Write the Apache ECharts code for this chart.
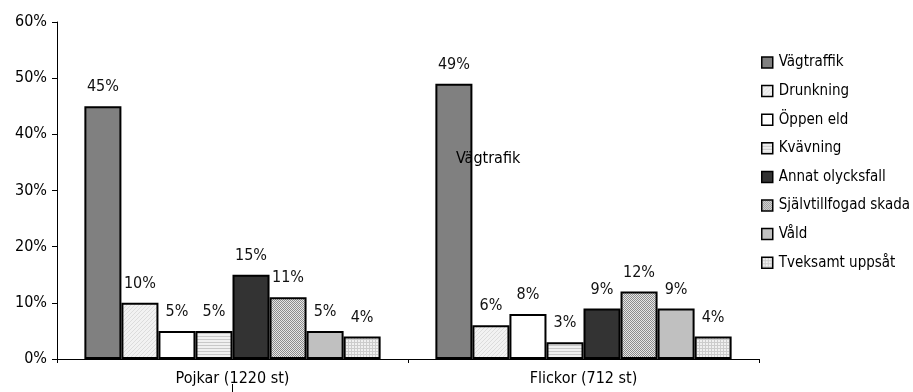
<!DOCTYPE html>
<html>
<head>
<meta charset="utf-8">
<script src="https://cdn.jsdelivr.net/npm/echarts@6/dist/echarts.min.js"></script>
<style>
  html, body { margin: 0; padding: 0; background: #fff; }
  #chart { width: 913px; height: 392px; }
</style>
</head>
<body>
<div id="chart"></div>
<script>
// Dödsorsaker per kön, andel av samtliga fall
const groups = ['Pojkar (1220 st)', 'Flickor (712 st)'];
const causes = ['Vägtraffik', 'Drunkning', 'Öppen eld', 'Kvävning', 'Annat olycksfall', 'Självtillfogad skada', 'Våld', 'Tveksamt uppsåt'];
const pojkar = [45, 10, 5, 5, 15, 11, 5, 4];
const flickor = [49, 6, 8, 3, 9, 12, 9, 4];
const yTicks = [0, 10, 20, 30, 40, 50, 60];

const FONT = "'Liberation Sans Narrow', 'DejaVu Sans Condensed', sans-serif";
const FS = 16;

// Small tiled canvases used as hatch fills
function tile(size, draw) {
  const c = document.createElement('canvas');
  c.width = size; c.height = size;
  const g = c.getContext('2d');
  draw(g, size);
  return { image: c, repeat: 'repeat' };
}
const diagonal = tile(4, (g, s) => {
  g.fillStyle = '#f2f2f2'; g.fillRect(0, 0, s, s);
  g.fillStyle = '#dcdcdc';
  for (let i = 0; i < s; i++) g.fillRect(i, s - 1 - i, 1, 1);
});
const horizontal = tile(3, (g, s) => {
  g.fillStyle = '#f0f0f0'; g.fillRect(0, 0, s, s);
  g.fillStyle = '#c8c8c8'; g.fillRect(0, 0, s, 1);
});
const checker = tile(2, (g, s) => {
  g.fillStyle = '#e6e6e6'; g.fillRect(0, 0, s, s);
  g.fillStyle = '#8c8c8c'; g.fillRect(0, 0, 1, 1); g.fillRect(1, 1, 1, 1);
});
const grid = tile(3, (g, s) => {
  g.fillStyle = '#f0f0f0'; g.fillRect(0, 0, s, s);
  g.fillStyle = '#cccccc'; g.fillRect(0, 0, s, 1); g.fillRect(0, 0, 1, s);
});

const fills = ['#808080', diagonal, '#ffffff', horizontal, '#333333', checker, '#c0c0c0', grid];

const series = causes.map((name, i) => ({
  name: name,
  type: 'bar',
  barGap: 0,
  barCategoryGap: '15.6%',
  data: [pojkar[i], flickor[i]],
  itemStyle: { color: fills[i], borderColor: '#000', borderWidth: 2 },
  label: {
    show: true,
    position: 'top',
    distance: 11,
    formatter: p => p.value + '%',
    fontFamily: FONT,
    fontSize: FS,
    color: '#111'
  }
}));

const chart = echarts.init(document.getElementById('chart'), null, { renderer: 'canvas' });
chart.setOption({
  animation: false,
  backgroundColor: '#fff',
  grid: { left: 57, right: 154, top: 22, bottom: 33, containLabel: false },
  legend: {
    orient: 'vertical',
    left: 756,
    top: 50,
    itemWidth: 11,
    itemHeight: 11,
    itemGap: 13.6,
    icon: 'rect',
    itemStyle: { borderColor: '#000', borderWidth: 1.5 },
    textStyle: { fontFamily: FONT, fontSize: 15, color: '#000', padding: [0, 0, 0, 1] },
    data: causes
  },
  xAxis: {
    type: 'category',
    data: groups,
    axisLine: { lineStyle: { color: '#000', width: 1 } },
    axisTick: { show: true, length: 4, lineStyle: { color: '#000' } },
    axisLabel: { fontFamily: FONT, fontSize: FS, color: '#000', margin: 12 }
  },
  yAxis: {
    type: 'value',
    min: yTicks[0],
    max: yTicks[yTicks.length - 1],
    interval: 10,
    splitLine: { show: false },
    axisLine: { show: true, lineStyle: { color: '#000', width: 1 } },
    axisTick: { show: true, length: 5, lineStyle: { color: '#000' } },
    axisLabel: { fontFamily: FONT, fontSize: FS, color: '#000', margin: 10, formatter: v => v + '%' }
  },
  series: series
});

// Stray category caption over the first Flickor bar and a short tick below the Pojkar caption
const boysCenter = chart.convertToPixel({ xAxisIndex: 0 }, groups[0]);
chart.setOption({
  graphic: [
    {
      type: 'text',
      left: 456,
      top: 151,
      z: 100,
      style: { text: 'Vägtrafik', font: FS + 'px ' + FONT, fill: '#000' }
    },
    {
      type: 'line',
      z: 100,
      shape: { x1: boysCenter, y1: 384, x2: boysCenter, y2: 392 },
      style: { stroke: '#000', lineWidth: 1 }
    }
  ]
});
</script>
</body>
</html>
